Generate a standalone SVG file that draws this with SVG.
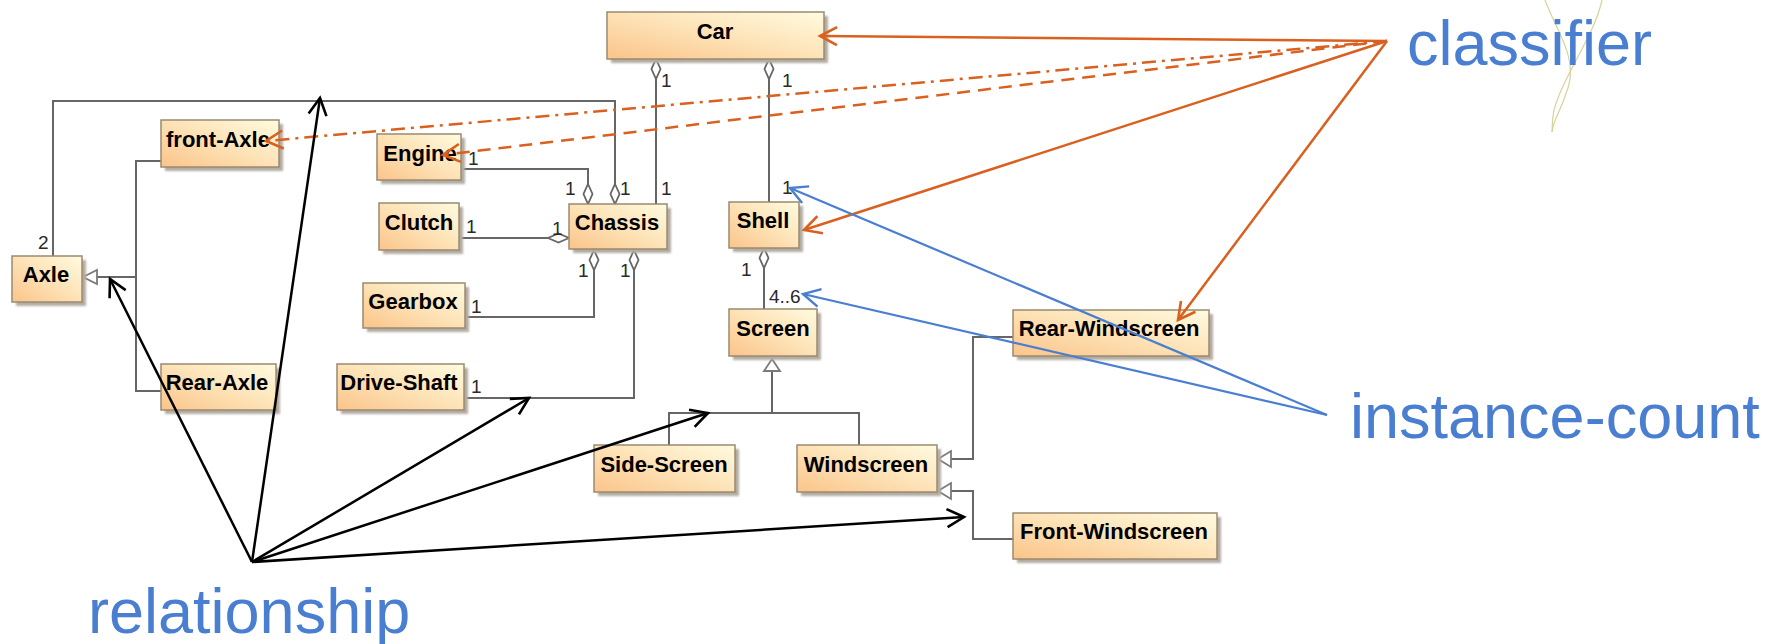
<svg xmlns="http://www.w3.org/2000/svg" width="1779" height="644" viewBox="0 0 1779 644">
  <defs>
    <linearGradient id="boxFill" x1="0" y1="1" x2="1" y2="0">
      <stop offset="0" stop-color="#fbc48a"/>
      <stop offset="0.5" stop-color="#fde2b6"/>
      <stop offset="1" stop-color="#fffbe0"/>
    </linearGradient>
    <filter id="soft" x="-10%" y="-10%" width="130%" height="140%">
      <feGaussianBlur stdDeviation="1.2"/>
    </filter>
    <marker id="headOrange" viewBox="-20 -12 24 24" markerWidth="24" markerHeight="24" refX="0" refY="0" orient="auto" markerUnits="userSpaceOnUse">
      <path d="M-17,-9 L0,0 L-17,9" fill="none" stroke="#d9601f" stroke-width="2.6" stroke-dasharray="none"/>
    </marker>
    <marker id="headBlue" viewBox="-20 -12 24 24" markerWidth="24" markerHeight="24" refX="0" refY="0" orient="auto" markerUnits="userSpaceOnUse">
      <path d="M-17,-9 L0,0 L-17,9" fill="none" stroke="#4a7ed1" stroke-width="2.4"/>
    </marker>
    <marker id="headBlack" viewBox="-20 -12 24 24" markerWidth="24" markerHeight="24" refX="0" refY="0" orient="auto" markerUnits="userSpaceOnUse">
      <path d="M-17,-9 L0,0 L-17,9" fill="none" stroke="#000" stroke-width="2.6"/>
    </marker>
  </defs>
  <style>
    .shadow { fill: #b3aca2; filter: url(#soft); }
    .box { fill: url(#boxFill); stroke: #9b8a70; stroke-width: 1.5; }
    .name { font-family: "Liberation Sans", Arial, sans-serif; font-weight: bold; font-size: 22px; fill: #000; text-anchor: middle; }
    .mult { font-family: "Liberation Sans", Arial, sans-serif; font-size: 19px; fill: #2a2a2a; }
    .link { fill: none; stroke: #666; stroke-width: 2; }
    .diamond { fill: #fff; stroke: #666; stroke-width: 1.8; }
    .tri { fill: #fff; stroke: #7a7a7a; stroke-width: 1.8; }
    .note { font-family: "Liberation Sans", Arial, sans-serif; font-size: 63px; fill: #4a7ed1; }
    .orange { fill: none; stroke: #d9601f; stroke-width: 2.5; marker-end: url(#headOrange); }
    .blue { fill: none; stroke: #4a7ed1; stroke-width: 2.2; marker-end: url(#headBlue); }
    .black { fill: none; stroke: #000; stroke-width: 2.5; marker-end: url(#headBlack); }
    .leaf { fill: none; stroke: #d6d39a; stroke-width: 1.2; }
  </style>

  <rect width="1779" height="644" fill="#fff"/>

  <!-- thin decorative stem behind the "classifier" caption -->
  <g id="stem">
    <path class="leaf" d="M1545,0 C1556,30 1578,58 1568,88 S1554,118 1552,132"/>
    <path class="leaf" d="M1602,0 C1596,28 1577,56 1564,84 S1553,116 1552,132"/>
  </g>

  <!-- UML associations and generalizations -->
  <g id="connectors">
    <!-- Car to Chassis / Shell -->
    <polyline class="link" points="656,79 656,204"/>
    <polygon class="diamond" points="656,59 660.5,69 656,79 651.5,69"/>
    <polyline class="link" points="769,79 769,202"/>
    <polygon class="diamond" points="769,59 773.5,69 769,79 764.5,69"/>
    <!-- Engine to Chassis -->
    <polyline class="link" points="461,169 588,169 588,184"/>
    <polygon class="diamond" points="588,184 592.5,194 588,204 583.5,194"/>
    <!-- Axle to Chassis -->
    <polyline class="link" points="53,256 53,101 615,101 615,184"/>
    <polygon class="diamond" points="615,184 619.5,194 615,204 610.5,194"/>
    <!-- Clutch to Chassis -->
    <polyline class="link" points="459,238 548,238"/>
    <polygon class="diamond" points="569,238 558.5,242.5 548,238 558.5,233.5"/>
    <!-- Gearbox / Drive-Shaft to Chassis -->
    <polyline class="link" points="465,317 594,317 594,270"/>
    <polygon class="diamond" points="594,250 598.5,260 594,270 589.5,260"/>
    <polyline class="link" points="464,398 634,398 634,270"/>
    <polygon class="diamond" points="634,250 638.5,260 634,270 629.5,260"/>
    <!-- Shell to Screen -->
    <polyline class="link" points="764,268 764,309"/>
    <polygon class="diamond" points="764,248 768.5,258 764,268 759.5,258"/>
    <!-- Axle generalization -->
    <polyline class="link" points="161,161 136,161 136,391 161,391"/>
    <polyline class="link" points="136,277 97,277"/>
    <polygon class="tri" points="83,277 97,270 97,284"/>
    <!-- Screen generalization -->
    <polyline class="link" points="772,371 772,413"/>
    <polyline class="link" points="669,445 669,413 859,413 859,445"/>
    <polygon class="tri" points="772,359 780,371 764,371"/>
    <!-- Windscreen generalization -->
    <polyline class="link" points="1013,337 973,337 973,459 951,459"/>
    <polygon class="tri" points="938,459 951,451 951,467"/>
    <polyline class="link" points="1013,539 973,539 973,491 951,491"/>
    <polygon class="tri" points="938,491 951,483 951,499"/>

    <!-- multiplicities -->
    <text class="mult" x="661" y="87">1</text>
    <text class="mult" x="661" y="195">1</text>
    <text class="mult" x="782" y="87">1</text>
    <text class="mult" x="782" y="194">1</text>
    <text class="mult" x="468" y="165">1</text>
    <text class="mult" x="565" y="195">1</text>
    <text class="mult" x="620" y="195">1</text>
    <text class="mult" x="466" y="233">1</text>
    <text class="mult" x="552" y="235">1</text>
    <text class="mult" x="578" y="277">1</text>
    <text class="mult" x="620" y="277">1</text>
    <text class="mult" x="471" y="313">1</text>
    <text class="mult" x="471" y="393">1</text>
    <text class="mult" x="741" y="276">1</text>
    <text class="mult" x="769" y="303">4..6</text>
    <text class="mult" x="38" y="249">2</text>
  </g>

  <!-- classes -->
  <g id="node-car">
    <rect class="shadow" x="611" y="16" width="217" height="47"/>
    <rect class="box" x="607" y="12" width="217" height="47"/>
    <text class="name" x="715" y="39">Car</text>
  </g>
  <g id="node-front-axle">
    <rect class="shadow" x="165" y="124" width="118" height="47"/>
    <rect class="box" x="161" y="120" width="118" height="47"/>
    <text class="name" x="218" y="147">front-Axle</text>
  </g>
  <g id="node-engine">
    <rect class="shadow" x="381" y="138" width="84" height="46"/>
    <rect class="box" x="377" y="134" width="84" height="46"/>
    <text class="name" x="420" y="161">Engine</text>
  </g>
  <g id="node-clutch">
    <rect class="shadow" x="383" y="207" width="80" height="47"/>
    <rect class="box" x="379" y="203" width="80" height="47"/>
    <text class="name" x="419" y="230">Clutch</text>
  </g>
  <g id="node-chassis">
    <rect class="shadow" x="573" y="208" width="98" height="45"/>
    <rect class="box" x="569" y="204" width="98" height="45"/>
    <text class="name" x="617" y="230">Chassis</text>
  </g>
  <g id="node-axle">
    <rect class="shadow" x="16" y="260" width="70" height="46"/>
    <rect class="box" x="12" y="256" width="70" height="46"/>
    <text class="name" x="46" y="282">Axle</text>
  </g>
  <g id="node-gearbox">
    <rect class="shadow" x="367" y="287" width="102" height="45"/>
    <rect class="box" x="363" y="283" width="102" height="45"/>
    <text class="name" x="413" y="309">Gearbox</text>
  </g>
  <g id="node-rear-axle">
    <rect class="shadow" x="165" y="368" width="115" height="46"/>
    <rect class="box" x="161" y="364" width="115" height="46"/>
    <text class="name" x="217" y="390">Rear-Axle</text>
  </g>
  <g id="node-drive-shaft">
    <rect class="shadow" x="341" y="368" width="127" height="46"/>
    <rect class="box" x="337" y="364" width="127" height="46"/>
    <text class="name" x="399" y="390">Drive-Shaft</text>
  </g>
  <g id="node-shell">
    <rect class="shadow" x="733" y="206" width="70" height="46"/>
    <rect class="box" x="729" y="202" width="70" height="46"/>
    <text class="name" x="763" y="228">Shell</text>
  </g>
  <g id="node-screen">
    <rect class="shadow" x="733" y="313" width="88" height="47"/>
    <rect class="box" x="729" y="309" width="88" height="47"/>
    <text class="name" x="773" y="336">Screen</text>
  </g>
  <g id="node-rear-windscreen">
    <rect class="shadow" x="1017" y="314" width="196" height="46"/>
    <rect class="box" x="1013" y="310" width="196" height="46"/>
    <text class="name" x="1109" y="336">Rear-Windscreen</text>
  </g>
  <g id="node-side-screen">
    <rect class="shadow" x="598" y="449" width="141" height="47"/>
    <rect class="box" x="594" y="445" width="141" height="47"/>
    <text class="name" x="664" y="472">Side-Screen</text>
  </g>
  <g id="node-windscreen">
    <rect class="shadow" x="801" y="449" width="140" height="47"/>
    <rect class="box" x="797" y="445" width="140" height="47"/>
    <text class="name" x="866" y="472">Windscreen</text>
  </g>
  <g id="node-front-windscreen">
    <rect class="shadow" x="1017" y="517" width="204" height="46"/>
    <rect class="box" x="1013" y="513" width="204" height="46"/>
    <text class="name" x="1114" y="539">Front-Windscreen</text>
  </g>

  <!-- callout arrows -->
  <g id="callout-classifier">
    <line class="orange" x1="1387" y1="41" x2="820" y2="36"/>
    <line class="orange" x1="1387" y1="41" x2="266" y2="141" stroke-dasharray="14 6 3 6"/>
    <line class="orange" x1="1387" y1="41" x2="443" y2="155" stroke-dasharray="13 8"/>
    <line class="orange" x1="1387" y1="41" x2="804" y2="230"/>
    <line class="orange" x1="1387" y1="41" x2="1178" y2="320"/>
  </g>
  <g id="callout-instance-count">
    <line class="blue" x1="1327" y1="415" x2="790" y2="188"/>
    <line class="blue" x1="1327" y1="415" x2="803" y2="294"/>
  </g>
  <g id="callout-relationship">
    <line class="black" x1="252" y1="562" x2="110" y2="279"/>
    <line class="black" x1="252" y1="562" x2="320" y2="98"/>
    <line class="black" x1="252" y1="562" x2="529" y2="398"/>
    <line class="black" x1="252" y1="562" x2="708" y2="413"/>
    <line class="black" x1="252" y1="562" x2="964" y2="517"/>
  </g>

  <!-- captions -->
  <text class="note" x="1407" y="65">classifier</text>
  <text class="note" x="1350" y="438">instance-count</text>
  <text class="note" x="88" y="633">relationship</text>
</svg>
